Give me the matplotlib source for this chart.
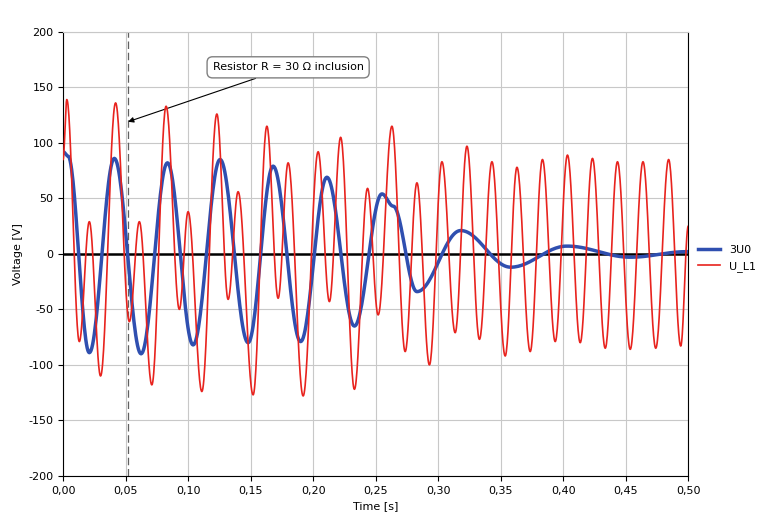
import numpy as np
import matplotlib
matplotlib.use("Agg")
import matplotlib.pyplot as plt

# U_L1 extrema (time s, voltage V)
red_t = [0.0, 0.003, 0.013, 0.021, 0.030, 0.042, 0.053, 0.061, 0.071, 0.0824, 0.093, 0.100, 0.111, 0.123,
         0.132, 0.140, 0.152, 0.163, 0.172, 0.180, 0.192, 0.204, 0.213, 0.222, 0.233, 0.2435, 0.252,
         0.263, 0.2736, 0.283, 0.293, 0.303, 0.3136, 0.323, 0.333, 0.343, 0.3536, 0.363, 0.3736, 0.3834,
         0.3936, 0.4034, 0.4136, 0.4234, 0.4336, 0.4434, 0.4536, 0.4638, 0.474, 0.4843, 0.494, 0.500]
red_v = [85, 139, -79, 29, -110, 136, -61, 29, -118, 133, -50, 38, -124, 126,
         -41, 56, -127, 115, -40, 82, -128, 92, -43, 105, -122, 59, -55,
         115, -88, 64, -100, 83, -71, 97, -77, 83, -92, 78, -88, 85,
         -79, 89, -80, 86, -85, 83, -86, 83, -85, 85, -83, 25]
# 3U0 extrema
blue_t = [0.0, 0.004, 0.021, 0.041, 0.0624, 0.0835, 0.104, 0.1256, 0.148, 0.168, 0.190, 0.211, 0.233,
          0.255, 0.264, 0.283, 0.318, 0.358, 0.403, 0.4536, 0.499]
blue_v = [92, 88, -89, 86, -90, 82, -82, 85, -80, 79, -79, 69, -65,
          54, 43, -34, 21, -12, 7, -3, 2]

x_ticks = [0.0, 0.05, 0.10, 0.15, 0.20, 0.25, 0.30, 0.35, 0.40, 0.45, 0.50]
y_ticks = [-200, -150, -100, -50, 0, 50, 100, 150, 200]


def smooth(ts, vs, n=30):
    xs, ys = [], []
    for i in range(len(ts) - 1):
        s = np.linspace(0, 1, n, endpoint=False)
        w = (1 - np.cos(np.pi * s)) / 2
        xs.extend(ts[i] + (ts[i + 1] - ts[i]) * s)
        ys.extend(vs[i] + (vs[i + 1] - vs[i]) * w)
    xs.append(ts[-1]); ys.append(vs[-1])
    return np.array(xs), np.array(ys)


fig = plt.figure(figsize=(7.69, 5.30), dpi=100)
ax = fig.add_axes([0.082, 0.102, 0.813, 0.838])
ax.set_xlim(0, 0.5)
ax.set_ylim(-200, 200)
ax.set_xticks(x_ticks)
ax.set_xticklabels([f"{v:.2f}".replace(".", ",") for v in x_ticks], fontsize=8)
ax.set_yticks(y_ticks)
ax.set_yticklabels([str(v) for v in y_ticks], fontsize=8)
ax.grid(True, color="#c8c8c8", linewidth=0.8)
ax.axhline(0, color="black", linewidth=1.8, zorder=2)
ax.axvline(0.052, color="#606060", linestyle=(0, (6, 3)), linewidth=0.9, zorder=2)
for s in ["left", "bottom", "right"]:
    ax.spines[s].set_color("black")
ax.spines["top"].set_color("#c8c8c8")

rx, ry = smooth(red_t, red_v)
bx, by = smooth(blue_t, blue_v)
ax.plot(bx, by, color="#2f4fb0", linewidth=2.5, label="3U0", zorder=3)
ax.plot(rx, ry, color="#e8231e", linewidth=1.2, label="U_L1", zorder=4)

ax.annotate("Resistor R = 30 Ω inclusion", xy=(0.052, 119), xytext=(0.18, 168),
            ha="center", va="center", fontsize=8,
            bbox=dict(boxstyle="round,pad=0.5", fc="white", ec="#808080"),
            arrowprops=dict(arrowstyle="-|>", color="black", lw=0.8,
                            shrinkA=0, shrinkB=0))

ax.set_xlabel("Time [s]", fontsize=8)
ax.set_ylabel("Voltage [V]", fontsize=8)
ax.legend(loc="center left", bbox_to_anchor=(1.0, 0.49), fontsize=8, frameon=False,
          handlelength=2.0)
fig.savefig("out.png", dpi=100)
